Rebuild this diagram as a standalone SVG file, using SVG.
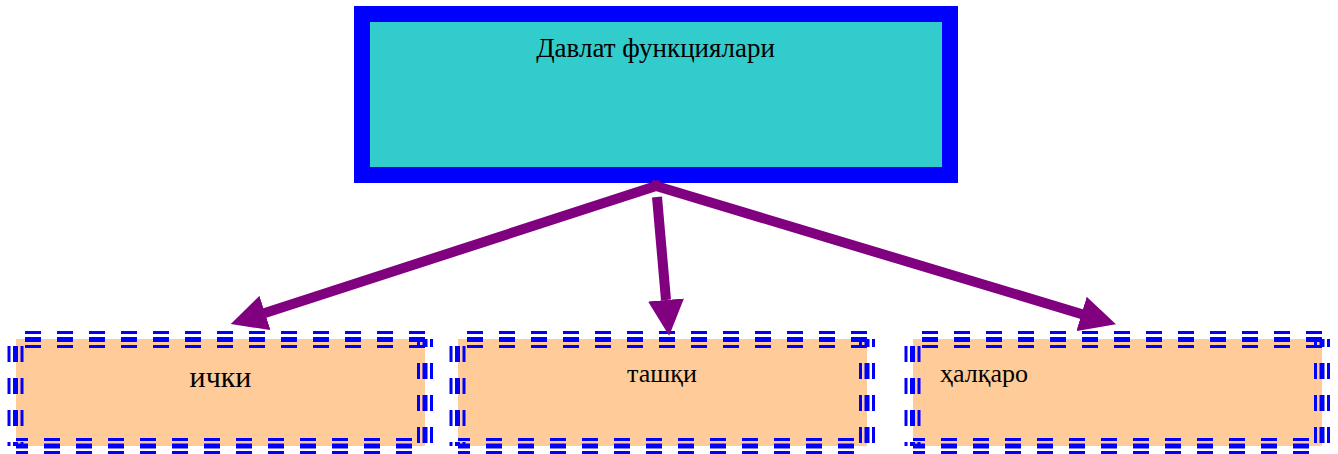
<svg xmlns="http://www.w3.org/2000/svg" xmlns:xlink="http://www.w3.org/1999/xlink" width="1338" height="454" viewBox="0 0 1338 454">
<style>
.t{font-family:"Liberation Serif","Times New Roman",serif;fill:#000}
.fill{fill:#FFCC99;stroke:none}
.bt{stroke:#0000FF;stroke-dasharray:16 16;fill:none}
.thin{stroke-width:3}
.thick{stroke-width:5}
.conn{stroke:#800080;stroke-width:10;fill:none}
</style>
<defs>
<marker id="ah" markerUnits="userSpaceOnUse" markerWidth="36" markerHeight="36" refX="0" refY="18" orient="auto" viewBox="0 0 36 36">
<path d="M0,0 L36,18 L0,36 z" fill="#800080"/>
</marker>
<g id="border">
<g class="bt" stroke-dashoffset="23">
<line class="thin" x1="16" y1="332.5" x2="425" y2="332.5"/>
<line class="thick" x1="16" y1="339.5" x2="425" y2="339.5"/>
<line class="thin" x1="16" y1="346.5" x2="425" y2="346.5"/>
</g>
<g class="bt" stroke-dashoffset="8">
<line class="thin" x1="418.5" y1="339" x2="418.5" y2="446"/>
<line class="thick" x1="425" y1="339" x2="425" y2="446"/>
<line class="thin" x1="431.5" y1="339" x2="431.5" y2="446"/>
</g>
<g class="bt" stroke-dashoffset="4">
<line class="thin" x1="16" y1="439.5" x2="425" y2="439.5"/>
<line class="thick" x1="16" y1="446" x2="425" y2="446"/>
<line class="thin" x1="16" y1="452.5" x2="425" y2="452.5"/>
</g>
<g class="bt" stroke-dashoffset="25">
<line class="thin" x1="9" y1="339" x2="9" y2="446"/>
<line class="thick" x1="15.5" y1="339" x2="15.5" y2="446"/>
<line class="thin" x1="22" y1="339" x2="22" y2="446"/>
</g>
</g>
</defs>

<g id="node-davlat">
<rect x="362" y="14" width="588" height="161" fill="#33CCCC" stroke="#0000FF" stroke-width="16"/>
<text class="t" x="655.5" y="57" font-size="27" text-anchor="middle">Давлат функциялари</text>
</g>

<g id="node-ichki">
<rect class="fill" x="16" y="339" width="409" height="107"/>
<use xlink:href="#border"/>
<text class="t" x="220.5" y="387" font-size="30" text-anchor="middle">ички</text>
</g>

<g id="node-tashqi">
<rect class="fill" x="458" y="339" width="409" height="107"/>
<use xlink:href="#border" transform="translate(442,0)"/>
<text class="t" x="662" y="382" font-size="26" text-anchor="middle">ташқи</text>
</g>

<g id="node-xalqaro">
<rect class="fill" x="913" y="339" width="409" height="107"/>
<use xlink:href="#border" transform="translate(897,0)"/>
<text class="t" x="940" y="382" font-size="26">ҳалқаро</text>
</g>

<g id="connectors">
<line class="conn" x1="656" y1="186" x2="265" y2="313" stroke-linecap="square" marker-end="url(#ah)"/>
<line class="conn" x1="657" y1="197" x2="666" y2="300" marker-end="url(#ah)"/>
<line class="conn" x1="656" y1="186" x2="1081.5" y2="314" stroke-linecap="square" marker-end="url(#ah)"/>
</g>
</svg>
